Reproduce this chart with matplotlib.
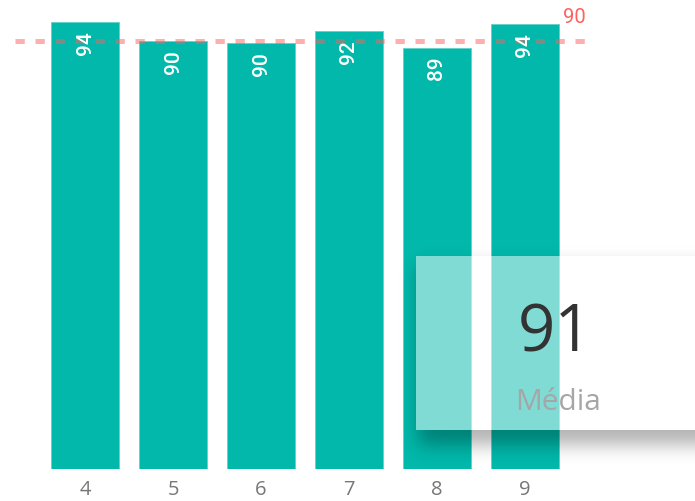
import math
import numpy as np
import matplotlib
matplotlib.use("Agg")
import matplotlib.pyplot as plt
from matplotlib.patches import Rectangle

# ---- data ----
months = [4, 5, 6, 7, 8, 9]
values = [94.0, 90.0, 89.5, 92.1, 88.6, 93.6]
labels = ["94", "90", "90", "92", "89", "94"]
target = 90
target_label = "90"
card_value = "91"
card_caption = "Média"

W, H, DPI = 695, 502, 100
plt.rcParams['lines.scale_dashes'] = False
fig = plt.figure(figsize=(W / DPI, H / DPI), dpi=DPI)
fig.patch.set_facecolor("white")

ax = fig.add_axes([15 / W, (H - 470) / H, 580 / W, 470 / H])
ax.set_xlim(3.2, 9.8)
ax.set_ylim(0, 98.8)
for s in ax.spines.values():
    s.set_visible(False)
ax.set_yticks([])
ax.set_xticks(months)
ax.set_xticklabels([str(m) for m in months], family="Open Sans", fontsize=14.5, color="#777777")
ax.tick_params(axis="x", length=0, pad=7.5)

ax.bar(months, values, width=0.772, color="#01B8AA", edgecolor="#5fd3c9", linewidth=0.6, zorder=2)

ax.axhline(target, color="#FD625E", alpha=0.5, lw=3.6, linestyle=(0, (6.7, 7.7)),
           dash_capstyle="butt", zorder=3)
ax.annotate(target_label, xy=(0.945, target), xycoords=("axes fraction", "data"),
            xytext=(0, 10.5), textcoords="offset points", ha="left", va="bottom",
            family="Roboto", fontsize=14.5, color="#FD625E", zorder=5)

for m, v, lab in zip(months, values, labels):
    ax.annotate(lab, xy=(m, v), xytext=(0, -6), textcoords="offset points",
                ha="center", va="top", rotation=90, family="Roboto", fontweight="medium",
                fontsize=15, color="white", zorder=4)

# ---- card with shadow (figure pixel coords, y from top) ----
cx0, cx1, cy0, cy1 = 416, 695, 257, 431

def erf_arr(a):
    return np.vectorize(math.erf)(a)

xs = np.arange(W) + 0.5
ys = np.arange(H) + 0.5
sig = 9.0
sx0, sx1, sy0, sy1 = cx0 + 2, cx1 + 40, cy0 + 10, cy1 + 15
fx = 0.5 * (erf_arr((xs - sx0) / (sig * math.sqrt(2))) - erf_arr((xs - sx1) / (sig * math.sqrt(2))))
fy = 0.5 * (erf_arr((ys - sy0) / (sig * math.sqrt(2))) - erf_arr((ys - sy1) / (sig * math.sqrt(2))))
mask = np.outer(fy, fx) * 0.3
inside = np.outer((ys >= cy0) & (ys <= cy1), (xs >= cx0) & (xs <= cx1))
mask[inside] = 0
img = np.zeros((H, W, 4))
img[..., 3] = mask
ov = fig.add_axes([0, 0, 1, 1], zorder=10)
ov.set_xlim(0, W)
ov.set_ylim(H, 0)
ov.axis("off")
ov.patch.set_alpha(0)
ov.imshow(img, extent=(0, W, H, 0), interpolation="nearest", aspect="auto")
ov.add_patch(Rectangle((cx0, cy0), cx1 - cx0, cy1 - cy0, facecolor="white", alpha=0.5, lw=0))
ov.set_xlim(0, W)
ov.set_ylim(H, 0)
ccx = (cx0 + cx1) / 2
ov.text(ccx, 352, card_value, ha="center", va="baseline", family="Open Sans",
        fontsize=47, color="#333333")
ov.text(ccx + 2, 410, card_caption, ha="center", va="baseline", family="Open Sans",
        fontsize=21.5, color="#A6A6A6")

fig.savefig("out.png", dpi=DPI)
